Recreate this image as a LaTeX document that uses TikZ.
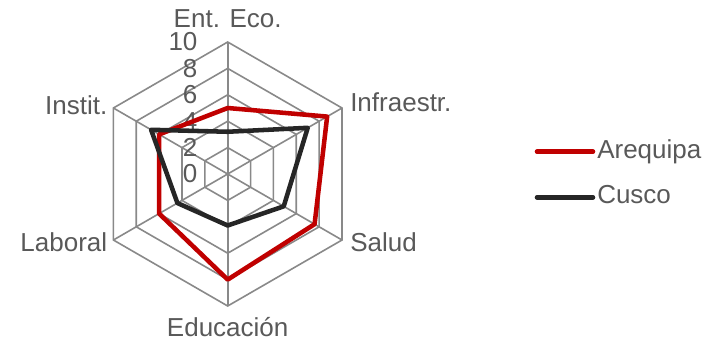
\documentclass[tikz,border=0pt]{standalone}
\usepackage{fontspec}
\setmainfont{Liberation Sans}
\usetikzlibrary{calc,positioning}
\definecolor{arequipa}{HTML}{C00000}
\definecolor{cusco}{HTML}{262626}
\definecolor{rejilla}{HTML}{898989}
\definecolor{texto}{HTML}{595959}

\begin{document}
\begin{tikzpicture}
	[x=0.75pt,y=-0.75pt,
	every node/.style={text=texto,inner sep=0pt,font=\fontsize{19.5}{23}\selectfont},
	rejillas/.style={draw=rejilla,line width=1.2pt},
	serie/.style={line width=3.4pt,line join=round}]
	\useasboundingbox (0,0) rectangle (718,340);
	\coordinate (o) at (227.7,174);
	% ejes: Ent. Eco., Infraestr., Salud, Educacion, Laboral, Instit.
	\foreach \i/\a in {1/-90,2/-30,3/30,4/90,5/150,6/210}
		\coordinate (e\i) at ($(o)+(\a:132)$);
	\foreach \r in {0.2,0.4,0.6,0.8,1}
		\draw[rejillas] ($(o)!\r!(e1)$) -- ($(o)!\r!(e2)$) -- ($(o)!\r!(e3)$) 
		-- ($(o)!\r!(e4)$) -- ($(o)!\r!(e5)$) -- ($(o)!\r!(e6)$) -- cycle;
	\foreach \i in {1,...,6}
		\draw[rejillas] (o) -- (e\i);
	\foreach \v in {0,2,...,10}
		\node[anchor=east] (t\v) at ($(o)!\v/10!(e1)+(-30,0)$) {\v};
	\node[anchor=base] (ent) at (227.7,27.5) {Ent. Eco.};
	\node[anchor=base west] (inf) at (350,111) {Infraestr.};
	\node[anchor=base west] (sal) at (350,251) {Salud};
	\node[anchor=base] (edu) at (227.7,336.5) {Educación};
	\node[anchor=base east] (lab) at (107.5,251.5) {Laboral};
	\node[anchor=base east] (ins) at (107.5,114) {Instit.};
	% series
	\foreach \i/\v in {1/5,2/8.7,3/7.6,4/8,5/6,6/6}
		\coordinate (a\i) at ($(o)!\v/10!(e\i)$);
	\foreach \i/\v in {1/3.2,2/7,3/4.9,4/3.9,5/4.4,6/6.7}
		\coordinate (c\i) at ($(o)!\v/10!(e\i)$);
	\draw[serie,arequipa] (a1) -- (a2) -- (a3) -- (a4) -- (a5) -- (a6) -- cycle;
	\draw[serie,cusco] (c1) -- (c2) -- (c3) -- (c4) -- (c5) -- (c6) -- cycle;
	% leyenda
	\coordinate (la1) at (537,151.7);
	\coordinate (la2) at (593,151.7);
	\coordinate (lc1) at (537,197.3);
	\coordinate (lc2) at (593,197.3);
	\draw[serie,arequipa,line cap=round] (la1) -- (la2);
	\draw[serie,cusco,line cap=round] (lc1) -- (lc2);
	\node[anchor=base west] (nare) at (597,158.5) {Arequipa};
	\node[anchor=base west] (ncus) at (597,203.5) {Cusco};
\end{tikzpicture}
\end{document}
